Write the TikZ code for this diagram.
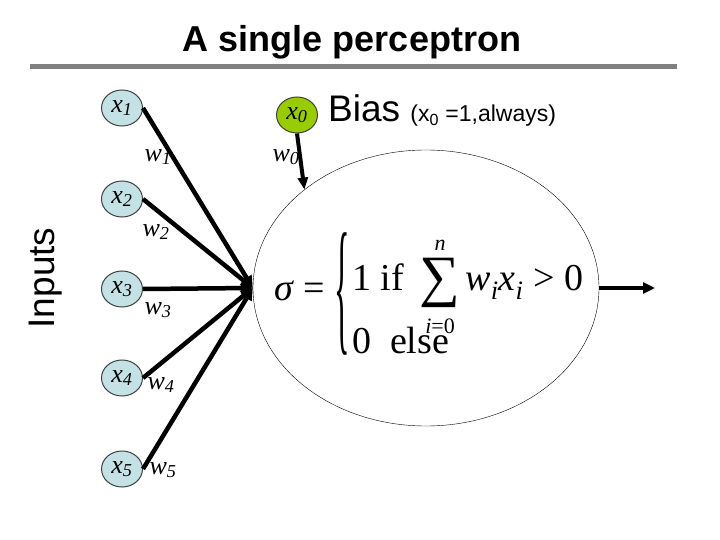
\documentclass[tikz,border=0pt]{standalone}
\usepackage{graphicx}
\usepackage{fontspec}
\setmainfont{Liberation Serif}
\newfontfamily\arialfont{Liberation Sans}
\usetikzlibrary{shapes.geometric,arrows.meta}
\definecolor{inblue}{HTML}{C4E2E6}
\definecolor{biasgreen}{HTML}{99CC00}
\definecolor{rulegray}{HTML}{808080}
\newcommand{\vsub}[2]{\textit{#1}\textsubscript{\textit{#2}}}
\newcommand{\bigsum}{\begin{tabular}[c]{@{}c@{}}{\fontsize{22}{22}\selectfont\textit{n}}\\[-4pt]\scalebox{1.5}{∑}\\[-2pt]{\fontsize{22}{22}\selectfont\textit{i}=0}\end{tabular}}
\newcommand{\tallbrace}{$\vcenter{\hbox{\scalebox{0.85}[3.9]{\{}}}$}
\tikzset{
  innode/.style={ellipse, draw=black!75, line width=1pt, fill=inblue,
    minimum width=41pt, minimum height=36pt, inner sep=0pt,
    font=\fontsize{26}{26}\selectfont},
  weight/.style={inner sep=0pt, font=\fontsize{26}{26}\selectfont},
  wire/.style={line width=4.5pt, -{Triangle[length=12pt,width=11pt]}},
}
\begin{document}
\begin{tikzpicture}[x=1pt,y=-1pt]
 \useasboundingbox (0,0) rectangle (720,540);
 \node (title) [anchor=base, font=\arialfont\bfseries\fontsize{36}{40}\selectfont] at (352,52) {A single perceptron};
 \draw[rulegray, line width=5pt] (30,66.5) -- (677,66.5);
 \node (inputs) [rotate=90, font=\arialfont\fontsize{37}{40}\selectfont] at (46,278) {Inputs};
 % inputs and bias
 \node[innode] (x1) at (122,108) {\vsub{x}{1}};
 \node[innode] (x2) at (122,199) {\vsub{x}{2}};
 \node[innode] (x3) at (122,289) {\vsub{x}{3}};
 \node[innode] (x4) at (122,378) {\vsub{x}{4}};
 \node[innode] (x5) at (122,469) {\vsub{x}{5}};
 \node[innode, fill=biasgreen] (x0) at (297,115) {\vsub{x}{0}};
 \node (bias) [anchor=base west, inner sep=0pt, font=\arialfont\fontsize{37}{40}\selectfont] at (328,122)
   {Bias {\fontsize{23}{24}\selectfont (x\textsubscript{0} =1,always)}};
 % the unit
 \node[ellipse, draw, thin, minimum width=346pt, minimum height=276pt, inner sep=0pt] (neuron) at (426,288) {};
 \node (formula) [anchor=west, font=\fontsize{38}{40}\selectfont, inner sep=0pt] at (274,294)
   {\textit{σ} = \tallbrace\hspace{2pt}\begin{tabular}[c]{@{}l@{}}1 if\hspace{16pt}\bigsum\hspace{5pt}\vsub{w}{i}\vsub{x}{i}\hspace{10pt}>\hspace{10pt}0\\[-20pt] 0 \ else\end{tabular}};
 \coordinate (out) at (655,288);
 \foreach \i in {1,...,5}
   \draw[wire] (x\i.east) -- (neuron.west);
 \draw[wire, line width=4pt, -{Triangle[length=12pt,width=10pt]}] (x0.south) -- (neuron.141);
 \draw[wire] (neuron.east) -- (out);
 % weights
 \node[weight] (w0) at (286,157) {\vsub{w}{0}};
 \node[weight] (w1) at (158,157) {\vsub{w}{1}};
 \node[weight] (w2) at (156,232) {\vsub{w}{2}};
 \node[weight] (w3) at (158,310) {\vsub{w}{3}};
 \node[weight] (w4) at (161,385) {\vsub{w}{4}};
 \node[weight] (w5) at (163,470) {\vsub{w}{5}};
\end{tikzpicture}
\end{document}
